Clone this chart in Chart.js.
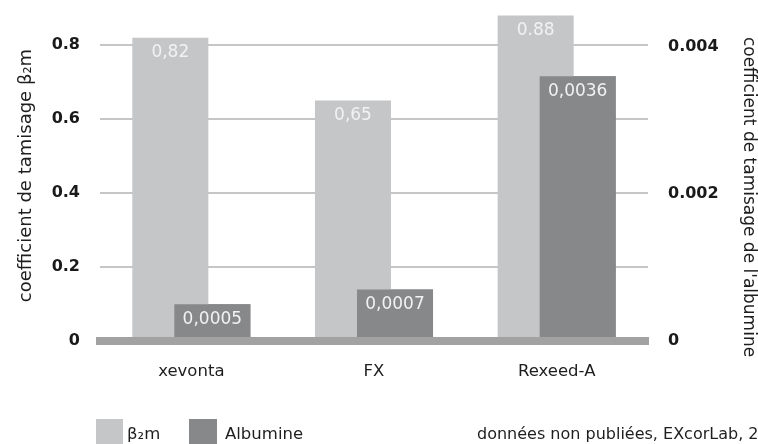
<!DOCTYPE html>
<html><head><meta charset="utf-8">
<script src="https://cdn.jsdelivr.net/npm/chart.js@4/dist/chart.umd.min.js"></script>
<style>html,body{margin:0;padding:0;background:#fff;}#wrap{width:758px;height:444px;}</style>
</head><body><div id="wrap"><canvas id="c" width="758" height="444"></canvas></div>
<script>
const categories = ['xevonta', 'FX', 'Rexeed-A'];
const beta2mValues = [0.82, 0.65, 0.88];
const albumineValues = [0.0005, 0.0007, 0.0036];
const beta2mLabels = ['0,82', '0,65', '0.88'];
const albumineLabels = ['0,0005', '0,0007', '0,0036'];
const leftTicks = [0, 0.2, 0.4, 0.6, 0.8];
const rightTicks = [0, 0.002, 0.004];
const seriesNames = ['β₂m', 'Albumine'];
const leftTitle = 'coefficient de tamisage β₂m';
const rightTitle = "coefficient de tamisage de l'albumine";
const footnote = 'données non publiées, EXcorLab, 2';

const FONT = "'DejaVu Sans', sans-serif";
const COL_B = '#c5c6c8';
const COL_A = '#87888a';
const TEXT = '#1e1e1e';

const overlay = {
  id: 'overlay',
  afterDatasetsDraw(chart) {
    const ctx = chart.ctx;
    chart.getDatasetMeta(1).controller.draw();
    ctx.save();
    ctx.font = '17px ' + FONT;
    ctx.fillStyle = '#f2f2f2';
    ctx.textAlign = 'center';
    ctx.textBaseline = 'middle';
    [[0, beta2mLabels], [1, albumineLabels]].forEach(([di, labels]) => {
      chart.getDatasetMeta(di).data.forEach((bar, i) => ctx.fillText(labels[i], bar.x, bar.y + 15));
    });
    ctx.restore();
  },
  afterDraw(chart) {
    const ctx = chart.ctx;
    ctx.save();
    ctx.font = '16.5px ' + FONT;
    ctx.textBaseline = 'alphabetic';
    ctx.textAlign = 'left';
    ctx.fillStyle = COL_B; ctx.fillRect(96, 419, 27, 26);
    ctx.fillStyle = COL_A; ctx.fillRect(189, 419, 28, 26);
    ctx.fillStyle = TEXT;
    ctx.fillText(seriesNames[0], 127, 439);
    ctx.fillText(seriesNames[1], 225, 439);
    ctx.font = '16px ' + FONT;
    ctx.fillText(footnote, 477, 439);
    // right axis title
    ctx.font = '17px ' + FONT;
    ctx.translate(748, 197);
    ctx.rotate(Math.PI / 2);
    ctx.textAlign = 'center';
    ctx.textBaseline = 'middle';
    ctx.fillText(rightTitle, 0, 0);
    ctx.restore();
  }
};

new Chart(document.getElementById('c'), {
  type: 'bar',
  data: {
    labels: categories,
    datasets: [
      { label: seriesNames[0], data: beta2mValues, yAxisID: 'y', backgroundColor: COL_B, borderWidth: 0 },
      { label: seriesNames[1], data: albumineValues, yAxisID: 'y1', backgroundColor: COL_A, borderWidth: 0 }
    ]
  },
  options: {
    responsive: false,
    devicePixelRatio: 1,
    animation: false,
    categoryPercentage: 0.46,
    barPercentage: 1.81,
    layout: { padding: { top: 10, bottom: 63, left: 0, right: 0 } },
    plugins: { legend: { display: false }, tooltip: { enabled: false } },
    scales: {
      x: {
        grid: { display: false, drawTicks: false },
        border: { display: true, color: '#a2a2a2', width: 8, z: 1 },
        ticks: { padding: 21, color: TEXT, font: { family: FONT, size: 16.5 } },
        afterFit(s) { s.height = 40; s.paddingLeft = 0; s.paddingRight = 0; }
      },
      y: {
        position: 'left',
        min: 0, max: 0.895,
        afterBuildTicks(s) { s.ticks = leftTicks.map(v => ({ value: v })); },
        grid: { color: c => c.tick && c.tick.value === 0 ? 'rgba(0,0,0,0)' : '#c6c6c6', lineWidth: 2, drawTicks: false },
        border: { display: false },
        ticks: { padding: 20, color: '#1a1a1a', font: { family: FONT, size: 16, weight: 'bold' },
          callback: v => v === 0 ? '0' : v.toFixed(1) },
        title: { display: true, text: leftTitle, color: TEXT, font: { family: FONT, size: 18 }, padding: { top: 16, bottom: 0 } },
        afterFit(s) { s.width = 100; s.paddingTop = 0; s.paddingBottom = 0; }
      },
      y1: {
        position: 'right',
        min: 0, max: 0.0045,
        afterBuildTicks(s) { s.ticks = rightTicks.map(v => ({ value: v })); },
        grid: { display: false, drawTicks: false },
        border: { display: false },
        ticks: { padding: 20, color: '#1a1a1a', font: { family: FONT, size: 16, weight: 'bold' },
          callback: v => v === 0 ? '0' : v.toFixed(3) },
        afterFit(s) { s.width = 110; s.paddingTop = 0; s.paddingBottom = 0; }
      }
    }
  },
  plugins: [overlay]
});
</script>
</body></html>
